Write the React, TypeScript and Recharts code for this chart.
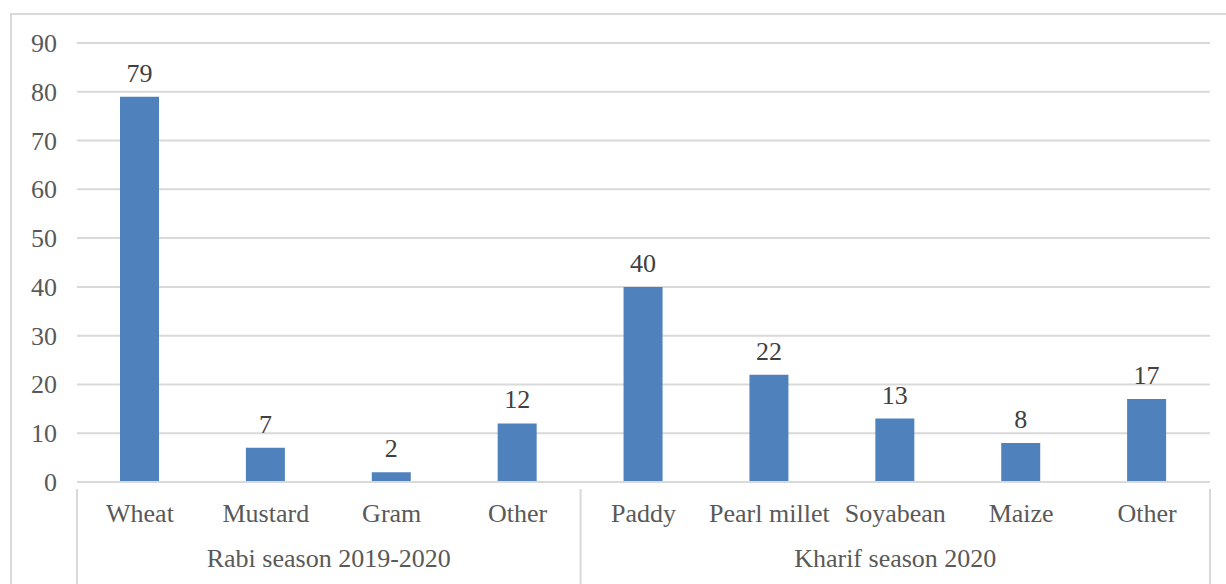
import { BarChart, Bar, XAxis, YAxis, CartesianGrid, LabelList } from 'recharts'

const crops = ['Wheat', 'Mustard', 'Gram', 'Other', 'Paddy', 'Pearl millet', 'Soyabean', 'Maize', 'Other']
const shares = [79, 7, 2, 12, 40, 22, 13, 8, 17]
const seasons = ['Rabi season 2019-2020', 'Kharif season 2020']
const seasonSizes = [4, 5]
const yTicks = [0, 10, 20, 30, 40, 50, 60, 70, 80, 90]

const data = crops.map((crop, i) => ({ key: `${crop}-${i}`, crop, share: shares[i] }))

const W = 1226
const H = 584
const LEFT = 77
const RIGHT = 1210
const TOP = 43
const BOTTOM = 482
const STEP = (RIGHT - LEFT) / crops.length
const FONT = "'Times New Roman', Times, Tinos, 'Liberation Serif', 'Noto Serif', 'DejaVu Serif', serif"
const GRID = '#d9d9d9'
const txt = { fontFamily: FONT, fontSize: 26 }

// category label plus season brackets underneath
function CropTick(props: any) {
  const { x, y, payload } = props
  const idx = payload.index
  const name = crops[idx]
  const parts: any[] = [
    <text key="t" x={x} y={y + 32} textAnchor="middle" style={txt} fill="#595959">{name}</text>,
  ]
  let start = 0
  seasonSizes.forEach((n, g) => {
    if (idx === start) {
      const left = x - STEP / 2
      const mid = x + ((n - 1) * STEP) / 2
      parts.push(<line key={`l${g}`} x1={left} x2={left} y1={y - 1} y2={y + 94} stroke={GRID} strokeWidth={2} />)
      parts.push(<text key={`g${g}`} x={mid} y={y + 77} textAnchor="middle" style={txt} fill="#595959">{seasons[g]}</text>)
      if (g === seasonSizes.length - 1) {
        const right = x + n * STEP - STEP / 2
        parts.push(<line key="r" x1={right} x2={right} y1={y - 1} y2={y + 94} stroke={GRID} strokeWidth={2} />)
      }
    }
    start += n
  })
  return <g>{parts}</g>
}

function ValueTick(props: any) {
  const { y, payload } = props
  return (
    <text x={LEFT - 20} y={y + 9} textAnchor="end" style={txt} fill="#595959">{payload.value}</text>
  )
}

function BarValue(props: any) {
  const { x, y, width, value } = props
  return (
    <text x={x + width / 2} y={y - 15} textAnchor="middle" style={txt} fill="#404040">{value}</text>
  )
}

export default function App() {
  return (
    <div style={{ position: 'absolute', left: 0, top: 0, width: W, height: H, background: '#fff', overflow: 'hidden' }}>
      <div style={{ position: 'absolute', left: 10, top: 13, width: W, height: H, border: `2px solid ${GRID}`, boxSizing: 'border-box' }} />
      <div style={{ position: 'absolute', left: 0, top: 0 }}>
        <BarChart
          width={W}
          height={H}
          data={data}
          margin={{ top: TOP, right: W - RIGHT, bottom: 0, left: 0 }}
          barSize={39}
          style={{ fontFamily: FONT }}
        >
          <CartesianGrid vertical={false} stroke={GRID} strokeWidth={2} />
          <YAxis
            domain={[0, 90]}
            ticks={yTicks}
            axisLine={false}
            tickLine={false}
            width={LEFT}
            interval={0}
            tick={<ValueTick />}
          />
          <XAxis
            dataKey="key"
            axisLine={{ stroke: GRID, strokeWidth: 2 }}
            tickLine={false}
            height={H - BOTTOM}
            interval={0}
            tick={<CropTick />}
          />
          <Bar dataKey="share" fill="#4f81bd" isAnimationActive={false}>
            <LabelList dataKey="share" content={<BarValue />} />
          </Bar>
        </BarChart>
      </div>
    </div>
  )
}
